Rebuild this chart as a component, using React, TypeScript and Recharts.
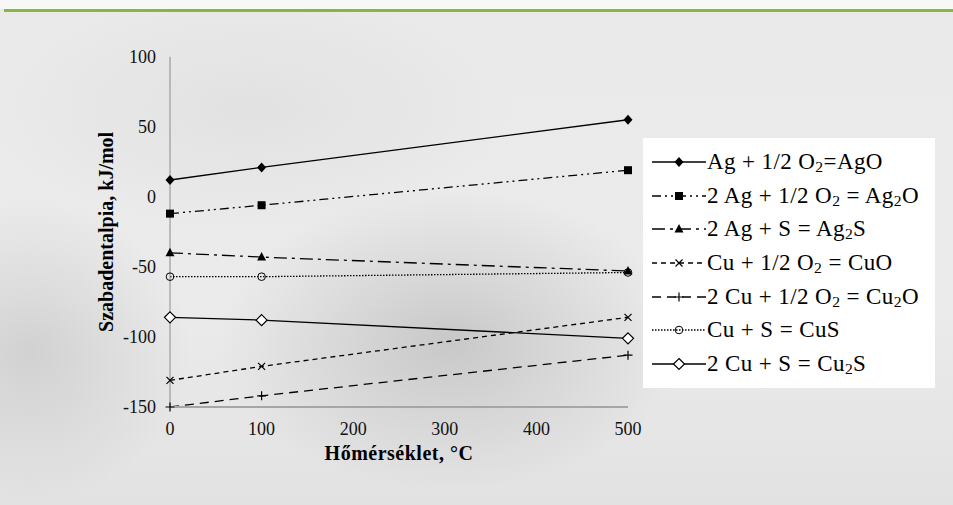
import React from 'react';
import { Legend, Line, LineChart, XAxis, YAxis } from 'recharts';

// Hőmérséklet (°C) és szabadentalpia (kJ/mol) értékek
const temperatures = [0, 100, 500];
const agO = [12, 21, 55];
const ag2O = [-12, -6, 19];
const ag2S = [-40, -43, -53];
const cuO = [-131, -121, -86];
const cu2O = [-150, -142, -113];
const cuS = [-57, -57, -54];
const cu2S = [-86, -88, -101];

const xTicks = [0, 100, 200, 300, 400, 500];
const yTicks = [-150, -100, -50, 0, 50, 100];

// "_" után következő karakter alsó index lesz
const seriesNames = [
  'Ag + 1/2 O_2=AgO',
  '2 Ag + 1/2 O_2 = Ag_2O',
  '2 Ag + S = Ag_2S',
  'Cu + 1/2 O_2 = CuO',
  '2 Cu + 1/2 O_2 = Cu_2O',
  'Cu + S = CuS',
  '2 Cu + S = Cu_2S',
];

type Shape = 'diamond' | 'square' | 'triangle' | 'cross' | 'plus' | 'circle' | 'diamondOpen';

const series: { key: string; values: number[]; dash?: string; shape: Shape }[] = [
  { key: 'agO', values: agO, shape: 'diamond' },
  { key: 'ag2O', values: ag2O, dash: '9 4 2 4 2 4', shape: 'square' },
  { key: 'ag2S', values: ag2S, dash: '13 5 3 5', shape: 'triangle' },
  { key: 'cuO', values: cuO, dash: '5 4', shape: 'cross' },
  { key: 'cu2O', values: cu2O, dash: '9 6', shape: 'plus' },
  { key: 'cuS', values: cuS, dash: '1.5 1.5', shape: 'circle' },
  { key: 'cu2S', values: cu2S, shape: 'diamondOpen' },
];

const data = temperatures.map((t, i) => {
  const row: Record<string, number> = { t };
  series.forEach((s) => {
    row[s.key] = s.values[i];
  });
  return row;
});

const FONT = '"Liberation Serif", "Times New Roman", serif';

function Marker({ cx, cy, shape }: { cx: number; cy: number; shape: Shape }) {
  switch (shape) {
    case 'diamond':
      return <path d={`M${cx},${cy - 5}L${cx + 4.5},${cy}L${cx},${cy + 5}L${cx - 4.5},${cy}Z`} fill="#000" />;
    case 'square':
      return <rect x={cx - 4} y={cy - 4} width={8} height={8} fill="#000" />;
    case 'triangle':
      return <path d={`M${cx},${cy - 5}L${cx + 4.5},${cy + 3.5}L${cx - 4.5},${cy + 3.5}Z`} fill="#000" />;
    case 'cross':
      return (
        <path
          d={`M${cx - 3.5},${cy - 3.5}L${cx + 3.5},${cy + 3.5}M${cx - 3.5},${cy + 3.5}L${cx + 3.5},${cy - 3.5}`}
          stroke="#000"
          strokeWidth={1.2}
        />
      );
    case 'plus':
      return <path d={`M${cx - 4.5},${cy}L${cx + 4.5},${cy}M${cx},${cy - 4.5}L${cx},${cy + 4.5}`} stroke="#000" strokeWidth={1.2} />;
    case 'circle':
      return <circle cx={cx} cy={cy} r={3.8} fill="none" stroke="#000" strokeWidth={1} />;
    case 'diamondOpen':
      return (
        <path
          d={`M${cx},${cy - 5.5}L${cx + 5.5},${cy}L${cx},${cy + 5.5}L${cx - 5.5},${cy}Z`}
          fill="#fff"
          stroke="#000"
          strokeWidth={1.2}
        />
      );
  }
  return null;
}

function Formula({ text }: { text: string }) {
  const parts = text.split(/_(.)/);
  return (
    <span>
      {parts.map((p, i) =>
        i % 2 === 1 ? (
          <sub key={i} style={{ fontSize: '0.68em', verticalAlign: '-0.22em', lineHeight: 0 }}>
            {p}
          </sub>
        ) : (
          <React.Fragment key={i}>{p}</React.Fragment>
        ),
      )}
    </span>
  );
}

function ChartLegend() {
  return (
    <div
      style={{
        background: '#fff',
        width: 292,
        height: 250,
        boxSizing: 'border-box',
        padding: '7px 0 0 9px',
        fontFamily: FONT,
        fontSize: 23,
        letterSpacing: 0.4,
        color: '#000',
      }}
    >
      {series.map((s, i) => (
        <div key={s.key} style={{ display: 'flex', alignItems: 'center', height: 33.7, whiteSpace: 'nowrap' }}>
          <svg width={55} height={20} style={{ flex: 'none' }}>
            <line x1={0} y1={10} x2={54} y2={10} stroke="#000" strokeWidth={1.4} strokeDasharray={s.dash} />
            <Marker cx={27} cy={10} shape={s.shape} />
          </svg>
          <Formula text={seriesNames[i]} />
        </div>
      ))}
    </div>
  );
}

function YTitle({ viewBox }: { viewBox?: { x: number; y: number; width: number; height: number } }) {
  if (!viewBox) return null;
  const x = viewBox.x - 4;
  const y = viewBox.y + viewBox.height / 2;
  return (
    <text
      x={x}
      y={y}
      transform={`rotate(-90 ${x} ${y})`}
      textAnchor="middle"
      dominantBaseline="central"
      fontFamily={FONT}
      fontWeight="bold"
      fontSize={20}
      fill="#000"
    >
      Szabadentalpia, kJ/mol
    </text>
  );
}

export default function App() {
  return (
    <div
      style={{
        position: 'absolute',
        left: 0,
        top: 0,
        width: 953,
        height: 505,
        overflow: 'hidden',
        background:
          'radial-gradient(ellipse 230px 150px at 450px 340px, rgba(150,150,150,0.4), rgba(150,150,150,0)),' +
          'radial-gradient(ellipse 160px 150px at 30px 350px, rgba(165,165,165,0.35), rgba(165,165,165,0)),' +
          'radial-gradient(ellipse 260px 120px at 250px 110px, rgba(205,205,205,0.3), rgba(205,205,205,0)),' +
          'linear-gradient(180deg, #eaeaea 0%, #ebebeb 60%, #e2e2e2 100%)',
      }}
    >
      <div style={{ position: 'absolute', left: 0, top: 0, width: 953, height: 9, background: '#f7f7f7' }} />
      <div style={{ position: 'absolute', left: 4, top: 9, width: 949, height: 3, background: '#86b83f' }} />
      <LineChart
        width={953}
        height={505}
        data={data}
        margin={{ top: 56.7, right: 325, bottom: 68, left: 110 }}
        style={{ position: 'absolute', left: 0, top: 0 }}
      >
        <XAxis
          dataKey="t"
          type="number"
          domain={[0, 500]}
          ticks={xTicks}
          height={30}
          tickLine={false}
          tickSize={0}
          tickMargin={15}
          axisLine={{ stroke: '#a6a6a6', strokeWidth: 2 }}
          tick={{ fill: '#111', fontSize: 18, fontFamily: FONT }}
          label={{
            value: 'Hőmérséklet, °C',
            position: 'bottom',
            offset: 9,
            fill: '#000',
            fontSize: 20,
            fontWeight: 'bold',
            fontFamily: FONT,
            letterSpacing: 0.5,
          }}
        />
        <YAxis
          type="number"
          domain={[-150, 100]}
          ticks={yTicks}
          width={60}
          tickLine={false}
          tickSize={0}
          tickMargin={14}
          axisLine={{ stroke: '#8c8c8c', strokeWidth: 1 }}
          tick={{ fill: '#111', fontSize: 18, fontFamily: FONT }}
          label={<YTitle />}
        />
        <Legend
          layout="vertical"
          align="center"
          verticalAlign="middle"
          content={() => <ChartLegend />}
          wrapperStyle={{ left: 643, top: 138, width: 292, height: 250 }}
        />
        {series.map((s, i) => (
          <Line
            key={s.key}
            dataKey={s.key}
            name={seriesNames[i]}
            type="linear"
            stroke="#000"
            strokeWidth={1.3}
            strokeDasharray={s.dash}
            isAnimationActive={false}
            dot={(p: any) => <Marker key={`${s.key}-${p.index}`} cx={p.cx} cy={p.cy} shape={s.shape} />}
            activeDot={false}
          />
        ))}
      </LineChart>
    </div>
  );
}
